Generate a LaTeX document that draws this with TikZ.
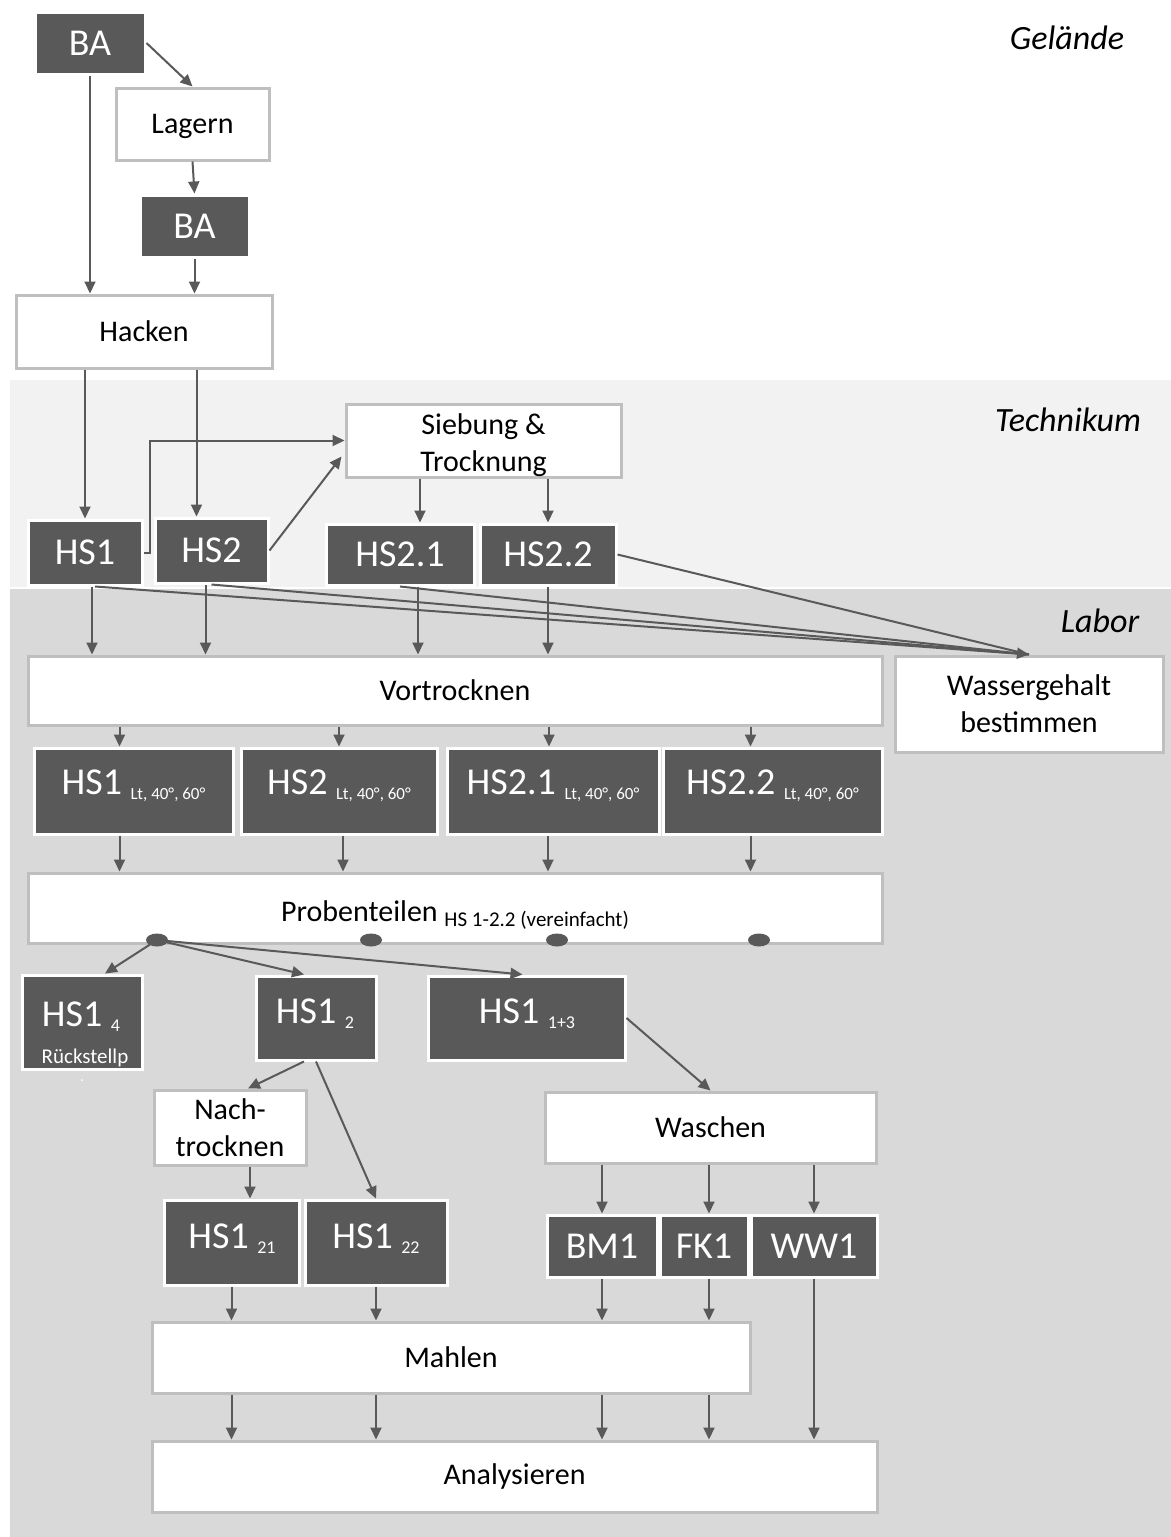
\documentclass[tikz,border=0pt]{standalone}
\usepackage{fontspec}
\setmainfont{Carlito}
\usetikzlibrary{arrows.meta, positioning, shapes.geometric, backgrounds, calc}

\definecolor{boxdark}{HTML}{595959}
\definecolor{boxline}{HTML}{BFBFBF}
\definecolor{techbg}{HTML}{F2F2F2}
\definecolor{laborbg}{HTML}{D9D9D9}

\newcommand{\subtxt}[2][9]{\raisebox{-2.5pt}{\fontsize{#1}{#1}\selectfont #2}}

\begin{document}
\begin{tikzpicture}[
    x=0.5pt, y=-0.5pt,
    every node/.style={font=\fontsize{15}{18.5}\selectfont},
    whitebox/.style={rectangle, draw=boxline, line width=1.5pt, fill=white, align=center, inner sep=0pt},
    darkbox/.style={rectangle, draw=white, line width=1.5pt, fill=boxdark, text=white, inner sep=0pt, font=\fontsize{19}{22}\selectfont},
    darktext/.style={anchor=base, inner sep=0pt, text=white, font=\fontsize{19}{22}\selectfont},
    splitdot/.style={ellipse, fill=boxdark, minimum width=11pt, minimum height=6.5pt, inner sep=0pt},
    arrow/.style={-{Triangle[length=6pt, width=5.5pt]}, line width=1pt, draw=boxdark},
    plainline/.style={line width=1pt, draw=boxdark},
    area/.style={font=\itshape\fontsize{17}{20}\selectfont}
]

\useasboundingbox (0,0) rectangle (1171,1537);

% ============ AREAS ============
\fill[techbg] (10,380) rectangle (1171,587);
\fill[laborbg] (10,589) rectangle (1171,1537);

\node[area] (gelaende) at (1067,38) {Gelände};
\node[area] (technikum) at (1068,420) {Technikum};
\node[area] (labor) at (1100,621) {Labor};

% ============ GELAENDE ============
\node[darkbox, minimum width=55pt, minimum height=31pt] (ba1) at (90,43) {BA};
\node[whitebox, text depth=0pt, minimum width=76.5pt, minimum height=36pt] (lagern) at (192.5,124) {Lagern};
\node[darkbox, minimum width=54.5pt, minimum height=31pt] (ba2) at (194.5,226) {BA};
\node[whitebox, minimum width=128pt, minimum height=36.5pt] (hacken) at (144,331.5) {Hacken};

% ============ TECHNIKUM ============
\node[whitebox, minimum width=137.5pt, minimum height=36.5pt] (sieb) at (483.5,440.5) {};
\node[align=center, inner sep=0pt] (sieb-txt) at (483.5,445) {Siebung \&\\Trocknung};
\node[darkbox, minimum width=57pt, minimum height=32.5pt] (hs1t) at (85,552.5) {HS1};
\node[darkbox, minimum width=56.5pt, minimum height=32.5pt] (hs2t) at (211.5,550.5) {HS2};
\node[darkbox, minimum width=74pt, minimum height=30.5pt] (hs21t) at (400,554.5) {HS2.1};
\node[darkbox, minimum width=68pt, minimum height=30.5pt] (hs22t) at (548,554.5) {HS2.2};

% ============ LABOR ============
\node[whitebox, minimum width=427pt, minimum height=34.5pt] (vortr) at (455,690.5) {Vortrocknen};
\node[whitebox, minimum width=134pt, minimum height=48pt] (wasser) at (1029,704) {Wassergehalt\\bestimmen};

% dried samples
\node[darkbox, minimum width=99.5pt, minimum height=43pt] (hs1l) at (133.5,791) {};
\node[darkbox, minimum width=98pt, minimum height=43pt] (hs2l) at (339,791) {};
\node[darkbox, minimum width=106pt, minimum height=43pt] (hs21l) at (553,791) {};
\node[darkbox, minimum width=109.5pt, minimum height=43pt] (hs22l) at (772.5,791) {};
\node[darktext] (hs1l-txt) at (133.5,794) {HS1 \subtxt[8.5]{Lt, 40°, 60°}};
\node[darktext] (hs2l-txt) at (339,794) {HS2 \subtxt[8.5]{Lt, 40°, 60°}};
\node[darktext] (hs21l-txt) at (553,794) {HS2.1 \subtxt[8.5]{Lt, 40°, 60°}};
\node[darktext] (hs22l-txt) at (772.5,794) {HS2.2 \subtxt[8.5]{Lt, 40°, 60°}};

% sample splitting
\node[whitebox, minimum width=427pt, minimum height=35pt] (probent) at (455,908) {};
\node[anchor=base, inner sep=0pt] (probent-txt) at (455,921) {Probenteilen \subtxt[10.5]{HS 1-2.2 (vereinfacht)}};
\node[splitdot] (dot1) at (157,940) {};
\node[splitdot] (dot2) at (371,940) {};
\node[splitdot] (dot3) at (557,940) {};
\node[splitdot] (dot4) at (759,940) {};

% split parts
\node[darkbox, minimum width=60pt, minimum height=47pt] (hs14) at (82,1022) {};
\node[darktext] (hs14-txt) at (81,1026) {HS1 \subtxt{4}};
\node[anchor=base, inner sep=0pt, text=white, font=\fontsize{10.5}{12}\selectfont] (hs14-note) at (85,1063) {Rückstellp};
\node[inner sep=0pt, text=white, font=\fontsize{8}{9}\selectfont] (hs14-dot) at (82,1081) {.};
\node[darkbox, minimum width=60pt, minimum height=42pt] (hs12) at (316,1018) {};
\node[darktext] (hs12-txt) at (315,1023) {HS1 \subtxt{2}};
\node[darkbox, minimum width=98.5pt, minimum height=42pt] (hs113) at (526.5,1018) {};
\node[darktext] (hs113-txt) at (527,1023) {HS1 \subtxt{1+3}};

\node[whitebox, minimum width=76pt, minimum height=37.5pt] (nacht) at (230,1127.5) {Nach-\\trocknen};
\node[whitebox, minimum width=165.5pt, minimum height=35.5pt] (waschen) at (710.5,1127.5) {Waschen};

\node[darkbox, minimum width=67.5pt, minimum height=42.5pt] (hs121) at (231.5,1242.5) {};
\node[darktext] (hs121-txt) at (232,1248) {HS1 \subtxt{21}};
\node[darkbox, minimum width=71pt, minimum height=42.5pt] (hs122) at (376,1242.5) {};
\node[darktext] (hs122-txt) at (376,1248) {HS1 \subtxt{22}};

\node[darkbox, minimum width=55pt, minimum height=31pt] (bm1) at (602,1246) {BM1};
\node[darkbox, minimum width=44pt, minimum height=31pt] (fk1) at (704,1246) {FK1};
\node[darkbox, minimum width=63pt, minimum height=31pt] (ww1) at (814,1246) {WW1};

\node[whitebox, minimum width=299pt, minimum height=35.5pt] (mahlen) at (451,1357.5) {Mahlen};
\node[whitebox, minimum width=362.5pt, minimum height=35.5pt] (analys) at (514.5,1476.5) {Analysieren};

% ============ ARROWS ============
% Gelaende
\draw[arrow] (ba1.south) -- (ba1.south |- hacken.north);
\draw[arrow] (ba1.east) -- (lagern.north);
\draw[arrow] (lagern.south) -- (ba2.north);
\draw[arrow] (ba2.south) -- (ba2.south |- hacken.north);

% Hacken to Technikum
\draw[arrow] (hs1t.north |- hacken.south) -- (hs1t.north);
\draw[arrow] ([xshift=-7.5pt]hs2t.north |- hacken.south) -- ([xshift=-7.5pt]hs2t.north);
\draw[arrow] (hs1t.east) -- ++(6,0) |- (sieb.west);
\draw[arrow] (hs2t.east) -- ([xshift=-1.5pt, yshift=-8pt]sieb.west);
\draw[arrow] ([xshift=10pt]hs21t.north |- sieb.south) -- ([xshift=10pt]hs21t.north);
\draw[arrow] (hs22t.north |- sieb.south) -- (hs22t.north);

% water content
\draw[plainline] ([xshift=5pt]hs1t.south) -- (wasser.north);
\draw[plainline] (hs2t.south) -- (wasser.north);
\draw[plainline] (hs22t.east) -- (wasser.north);
\draw[arrow] (hs21t.south) -- (wasser.north);

% Technikum to Vortrocknen
\draw[arrow] ([xshift=3.5pt]hs1t.south) -- ([xshift=3.5pt]hs1t.south |- vortr.north);
\draw[arrow] ([xshift=-3pt]hs2t.south) -- ([xshift=-3pt]hs2t.south |- vortr.north);
\draw[arrow] ([xshift=9pt]hs21t.south) -- ([xshift=9pt]hs21t.south |- vortr.north);
\draw[arrow] (hs22t.south) -- (hs22t.south |- vortr.north);

% Vortrocknen to samples to Probenteilen
\draw[arrow] ([xshift=-7pt]hs1l.north |- vortr.south) -- ([xshift=-7pt]hs1l.north);
\draw[arrow] (hs2l.north |- vortr.south) -- (hs2l.north);
\draw[arrow] ([xshift=-2pt]hs21l.north |- vortr.south) -- ([xshift=-2pt]hs21l.north);
\draw[arrow] ([xshift=-11pt]hs22l.north |- vortr.south) -- ([xshift=-11pt]hs22l.north);
\draw[arrow] ([xshift=-7pt]hs1l.south) -- ([xshift=-7pt]hs1l.south |- probent.north);
\draw[arrow] ([xshift=2pt]hs2l.south) -- ([xshift=2pt]hs2l.south |- probent.north);
\draw[arrow] ([xshift=-2.5pt]hs21l.south) -- ([xshift=-2.5pt]hs21l.south |- probent.north);
\draw[arrow] ([xshift=-11pt]hs22l.south) -- ([xshift=-11pt]hs22l.south |- probent.north);

% splitting
\draw[arrow] (dot1.center) -- ([xshift=11.5pt]hs14.north);
\draw[arrow] (dot1.center) -- ([xshift=-6pt]hs12.north);
\draw[arrow] (dot1.center) -- ([xshift=-2pt]hs113.north);
\draw[arrow] (hs113.east) -- (waschen.north);
\draw[arrow] ([xshift=-6pt]hs12.south) -- ([xshift=9pt]nacht.north);
\draw[arrow] (hs12.south) -- (hs122.north);
\draw[arrow] ([xshift=10pt]nacht.south) -- ([xshift=10pt]nacht.south |- hs121.north);

% washing
\draw[arrow] (bm1.north |- waschen.south) -- (bm1.north);
\draw[arrow] ([xshift=2.5pt]fk1.north |- waschen.south) -- ([xshift=2.5pt]fk1.north);
\draw[arrow] (ww1.north |- waschen.south) -- (ww1.north);

% Mahlen and Analysieren
\draw[arrow] (hs121.south) -- (hs121.south |- mahlen.north);
\draw[arrow] (hs122.south) -- (hs122.south |- mahlen.north);
\draw[arrow] (bm1.south) -- (bm1.south |- mahlen.north);
\draw[arrow] ([xshift=2.5pt]fk1.south) -- ([xshift=2.5pt]fk1.south |- mahlen.north);
\draw[arrow] (hs121.south |- mahlen.south) -- (hs121.south |- analys.north);
\draw[arrow] (hs122.south |- mahlen.south) -- (hs122.south |- analys.north);
\draw[arrow] (bm1.south |- mahlen.south) -- (bm1.south |- analys.north);
\draw[arrow] ([xshift=2.5pt]fk1.south |- mahlen.south) -- ([xshift=2.5pt]fk1.south |- analys.north);
\draw[arrow] (ww1.south) -- (ww1.south |- analys.north);

\end{tikzpicture}
\end{document}
